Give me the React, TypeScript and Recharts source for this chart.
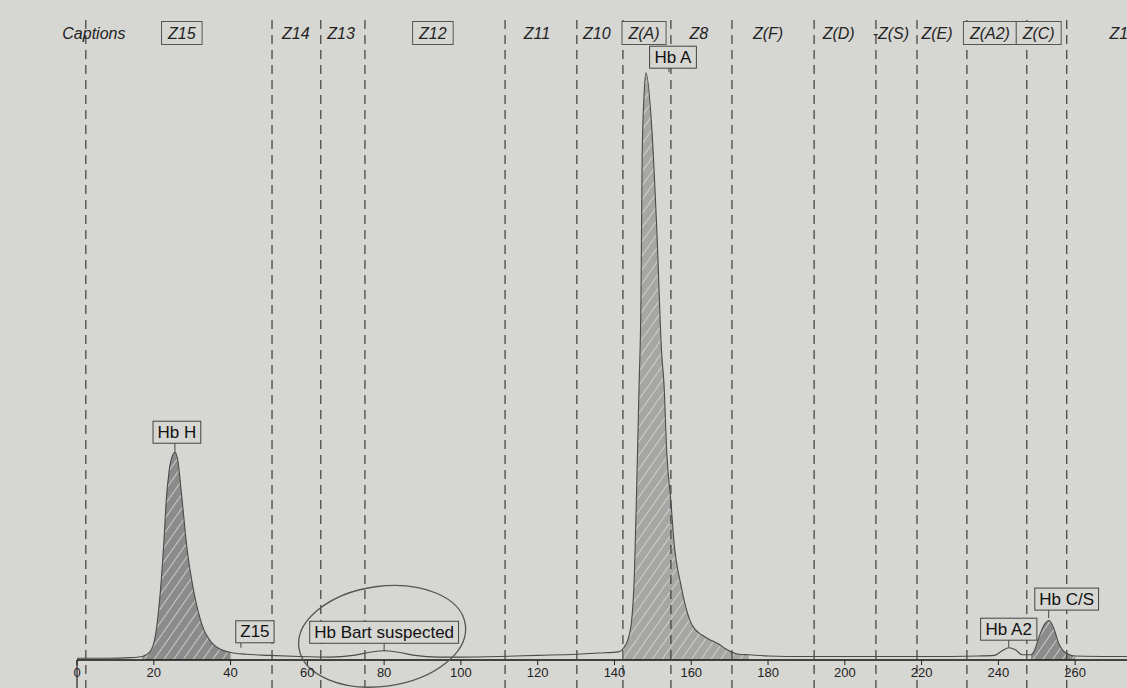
import React from 'react';
import { ComposedChart, Line, Area, XAxis, YAxis, ReferenceLine, ReferenceDot } from 'recharts';

// migration position (x) and absorbance trace (arbitrary units)
const positions = [
  0, 8, 14, 17, 19, 20.5, 21.8, 22.7, 23.2, 24, 25, 25.5, 26.2, 27.3, 28.6, 30.5, 32.6, 35.2, 37.5, 40,
  44, 50, 58, 66, 72, 76, 80, 84, 88, 94, 100, 110, 120, 130, 136, 141,
  142.5, 143.5, 144.5, 145.2, 145.8, 146.4, 146.9, 147.2, 147.7, 148.2, 149.7, 151, 152.3, 152.9, 153.6,
  154.7, 155.5, 157.3, 160.2, 163, 165.4, 167, 169, 172.4, 175, 180, 190, 200, 220, 235, 239, 241, 242.7,
  244.5, 246.2, 248.5, 249.5, 250.5, 252.1, 253.2, 254.4, 255.7, 257.6, 260, 273.5,
];
const signal = [
  0.3, 0.3, 0.4, 0.6, 1.4, 4.5, 12.5, 21, 27, 32.5, 35.3, 35.7, 34.5, 28, 19.5, 11.5, 6, 2.9, 1.8, 1.3,
  1.0, 0.8, 0.6, 0.5, 0.8, 1.3, 1.6, 1.3, 0.8, 0.5, 0.5, 0.6, 0.8, 1.0, 1.2, 1.4,
  2.2, 3.5, 7, 15, 30, 47, 62, 86, 97, 100.9, 91.6, 74.3, 52.6, 47.4, 35.9,
  27.2, 20.3, 12.9, 6.0, 4.2, 3.3, 2.8, 1.9, 1.0, 0.9, 0.7, 0.6, 0.6, 0.6, 0.7, 0.8, 1.6, 2.1,
  1.7, 0.9, 0.9, 1.8, 3.8, 6.2, 6.8, 5.5, 2.9, 1.2, 0.7, 0.6,
];

// shaded (integrated) peaks
const fillKeys = ['fillH', 'fillA', 'fillC'];
const fillRanges = [[17, 40], [142.5, 175], [248.5, 260]];

// zone boundaries and captions
const zoneBounds = [2.3, 50.8, 63.5, 75, 111.5, 130.2, 142.2, 154.7, 170.6, 192, 208.1, 218.8, 231.8, 247.4, 257.8];
const zoneNames = ['Captions', 'Z15', 'Z14', 'Z13', 'Z12', 'Z11', 'Z10', 'Z(A)', 'Z8', 'Z(F)', 'Z(D)', '-Z(S)', 'Z(E)', 'Z(A2)', 'Z(C)', 'Z1'];
const zoneCenters = [4.4, 27.3, 57, 68.8, 92.7, 119.8, 135.4, 147.7, 162, 180, 198.4, 212, 224, 237.8, 250.5, 271.4];
const boxedZones = ['Z15', 'Z12', 'Z(A)', 'Z(A2)', 'Z(C)'];

// peak identifications
const peakNames = ['Hb H', 'Z15', 'Hb Bart suspected', 'Hb A', 'Hb A2', 'Hb C/S'];
const peakAt = [25.5, 42.7, 80, 154.2, 242.7, 253.1];
const peakLevel = [35.7, 2.1, 1.5, 101, 2.2, 7.2];

const xTicks = [0, 20, 40, 60, 80, 100, 120, 140, 160, 180, 200, 220, 240, 260];

const PAPER = '#d6d6d2';
const FONT = "'Liberation Sans', Arial, sans-serif";

// box offsets / stem lengths for the peak tags (px)
const tagLayout: { [k: string]: { dx: number; stem: number } } = {
  'Hb H': { dx: 2, stem: 9 },
  'Z15': { dx: 14, stem: 5 },
  'Hb Bart suspected': { dx: 0, stem: 8 },
  'Hb A': { dx: 4, stem: 4 },
  'Hb A2': { dx: 0, stem: 7 },
  'Hb C/S': { dx: 18, stem: 8 },
};

const canvasCtx = typeof document !== 'undefined' ? document.createElement('canvas').getContext('2d') : null;
const textWidth = (s: string, font: string) => {
  if (!canvasCtx) return s.length * 8.5;
  canvasCtx.font = font;
  return canvasCtx.measureText(s).width;
};

const zoneLabel = (name: string) => (props: any) => {
  const vb = props.viewBox || {};
  const cx = vb.x + (vb.width || 0) / 2;
  const cy = vb.y + 19;
  const boxed = boxedZones.includes(name);
  const w = textWidth(name, `italic 16px ${FONT}`) + 13;
  return (
    <g>
      {boxed && <rect x={cx - w / 2} y={cy - 11.5} width={w} height={23} fill={PAPER} stroke="#555" strokeWidth={1} />}
      <text x={cx} y={cy} textAnchor="middle" dominantBaseline="central" fontFamily={FONT} fontStyle="italic" fontSize={16} fill="#222">
        {name}
      </text>
    </g>
  );
};

const peakTag = (name: string) => (props: any) => {
  const vb = props.viewBox || {};
  const px = vb.x + (vb.width || 0) / 2;
  const py = vb.y + (vb.height || 0) / 2;
  const { dx, stem } = tagLayout[name];
  const w = textWidth(name, `17px ${FONT}`) + 9;
  const h = 22;
  const bottom = py - stem;
  return (
    <g>
      {name === 'Hb Bart suspected' && (
        <ellipse cx={px - 2} cy={py - 15} rx={84} ry={50} transform={`rotate(-8 ${px - 2} ${py - 15})`} fill="none" stroke="#555" strokeWidth={1.3} />
      )}
      <line x1={px} y1={py} x2={px} y2={bottom} stroke="#444" strokeWidth={1} />
      <rect x={px + dx - w / 2} y={bottom - h} width={w} height={h} fill={PAPER} stroke="#444" strokeWidth={1} />
      <text x={px + dx} y={bottom - h / 2} textAnchor="middle" dominantBaseline="central" fontFamily={FONT} fontSize={17} fill="#111">
        {name}
      </text>
    </g>
  );
};

const dashedZoneLine = (p: any) => {
  const top = Math.min(p.y1, p.y2) + 6;
  const bot = Math.max(p.y1, p.y2) + 28;
  return <line x1={p.x1} x2={p.x2} y1={top} y2={bot} stroke="#3c3c3c" strokeWidth={1.2} strokeDasharray="9 6" />;
};

const originStub = (p: any) => {
  const bot = Math.max(p.y1, p.y2);
  return <line x1={p.x1} x2={p.x2} y1={bot} y2={bot + 28} stroke="#222" strokeWidth={1.2} />;
};

const table = positions.map((pos, i) => {
  const row: any = { pos, signal: signal[i] };
  fillKeys.forEach((k, j) => {
    const [a, b] = fillRanges[j];
    row[k] = pos >= a && pos <= b ? signal[i] : null;
  });
  return row;
});

export default function App() {
  return (
    <div style={{ position: 'fixed', left: 0, top: 0, width: 1127, height: 688, background: PAPER, overflow: 'hidden' }}>
      <ComposedChart width={1127} height={688} data={table} margin={{ top: 14, right: 0, left: 77, bottom: 0 }}>
        <defs>
          <pattern id="hatchDark" patternUnits="userSpaceOnUse" width={8} height={8} patternTransform="rotate(35)">
            <rect width={8} height={8} fill="#8b8b8b" />
            <line x1={0} y1={0} x2={0} y2={8} stroke="#c9c9c6" strokeWidth={2} />
          </pattern>
          <pattern id="hatchLight" patternUnits="userSpaceOnUse" width={8} height={8} patternTransform="rotate(35)">
            <rect width={8} height={8} fill="#a6a6a4" />
            <line x1={0} y1={0} x2={0} y2={8} stroke="#cfcfcc" strokeWidth={2} />
          </pattern>
        </defs>
        <XAxis
          type="number"
          dataKey="pos"
          domain={[0, 273.5]}
          ticks={xTicks}
          allowDataOverflow
          height={28}
          axisLine={{ stroke: '#111', strokeWidth: 1.6 }}
          tickLine={{ stroke: '#222' }}
          tickSize={5}
          tickMargin={3}
          tick={{ fill: '#222', fontSize: 13, fontFamily: FONT }}
        />
        <YAxis type="number" domain={[0, 111]} hide />
        {zoneBounds.map((b) => (
          <ReferenceLine key={`zb-${b}`} x={b} shape={dashedZoneLine} />
        ))}
        <ReferenceLine x={0} shape={originStub} />
        {fillKeys.map((k, j) => (
          <Area
            key={k}
            type="monotone"
            dataKey={k}
            stroke="none"
            fill={j === 1 ? 'url(#hatchLight)' : 'url(#hatchDark)'}
            fillOpacity={1}
            isAnimationActive={false}
            connectNulls={false}
          />
        ))}
        <Line type="monotone" dataKey="signal" stroke="#4a4a4a" strokeWidth={1.1} dot={false} isAnimationActive={false} />
        {zoneNames.map((n, i) => (
          <ReferenceLine key={`zn-${n}`} x={zoneCenters[i]} stroke="none" label={zoneLabel(n)} />
        ))}
        {peakNames.map((n, i) => (
          <ReferenceDot key={`pk-${n}`} x={peakAt[i]} y={peakLevel[i]} r={1} fill="none" stroke="none" label={peakTag(n)} />
        ))}
      </ComposedChart>
    </div>
  );
}
